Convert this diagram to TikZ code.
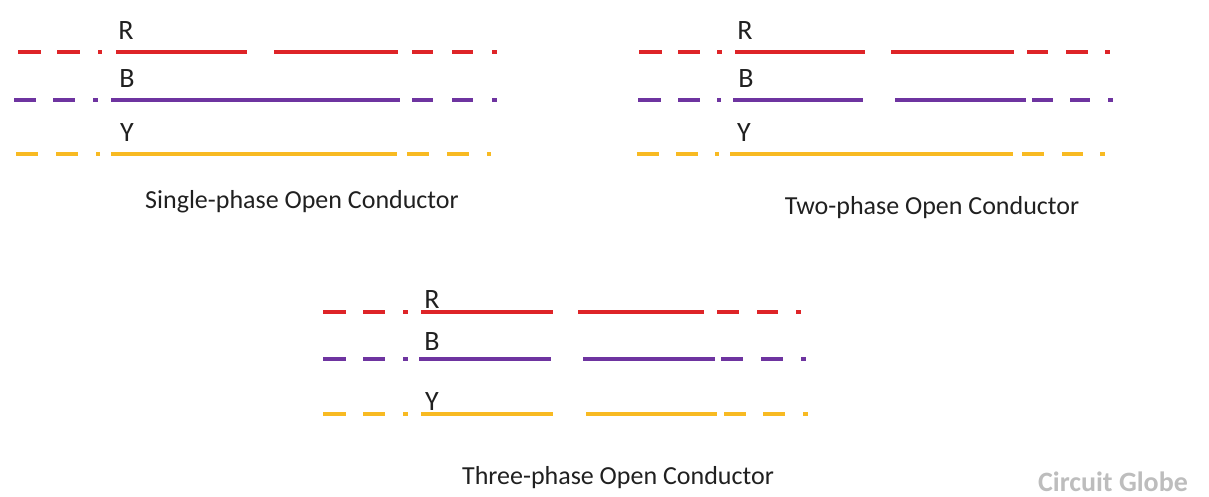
\documentclass[tikz,border=0pt]{standalone}
\usepackage{fontspec}
\setmainfont{Carlito}
\usetikzlibrary{positioning}
\definecolor{phRed}{HTML}{DE2428}
\definecolor{phBlue}{HTML}{6E34A0}
\definecolor{phYellow}{HTML}{F8BA22}
\definecolor{cgGrey}{HTML}{BDBDBD}
\definecolor{txtInk}{HTML}{202020}
\tikzset{
  wire/.style={line width=4.2pt},
  phlabel/.style={font=\fontsize{28}{28}\selectfont, text=txtInk, inner sep=0pt, anchor=base},
  caption/.style={font=\fontsize{26}{26}\selectfont, text=txtInk, inner sep=0pt, anchor=base},
}

\begin{document}
\begin{tikzpicture}[x=1pt,y=-1pt]
  \useasboundingbox (0,0) rectangle (1209,497);
  % single-phase open conductor
  \foreach \a/\b in {18/41,57/80,98/102,116/247,274/398,412/433,452/473,492/497}
    {\draw[wire,phRed] (\a,52) -- (\b,52);}
  \foreach \a/\b in {14/36,53/75,93/98,111/400,412/433,452/473,492/497}
    {\draw[wire,phBlue] (\a,100) -- (\b,100);}
  \foreach \a/\b in {16/38,56/78,96/100,111/397,407/429,447/469,487/491}
    {\draw[wire,phYellow] (\a,154) -- (\b,154);}
  \node[phlabel] (r1) at (126,40) {R};
  \node[phlabel] (b1) at (127,88) {B};
  \node[phlabel] (y1) at (127,142) {Y};
  \node[caption] (cap1) at (302,208) {Single-phase Open Conductor};
  % two-phase open conductor
  \foreach \a/\b in {639/662,678/700,717/722,735/865,891/1014,1027/1048,1066/1088,1105/1110}
    {\draw[wire,phRed] (\a,52) -- (\b,52);}
  \foreach \a/\b in {638/661,678/700,717/721,733/863,895/1026,1032/1053,1070/1090,1108/1113}
    {\draw[wire,phBlue] (\a,100) -- (\b,100);}
  \foreach \a/\b in {637/659,676/698,715/719,730/1013,1022/1044,1062/1083,1100/1105}
    {\draw[wire,phYellow] (\a,154) -- (\b,154);}
  \node[phlabel] (r2) at (745,40) {R};
  \node[phlabel] (b2) at (746,88) {B};
  \node[phlabel] (y2) at (744,142) {Y};
  \node[caption] (cap2) at (932,214) {Two-phase Open Conductor};
  % three-phase open conductor
  \foreach \a/\b in {323/346,363/385,403/408,421/553,578/704,717/739,757/778,796/801}
    {\draw[wire,phRed] (\a,312) -- (\b,312);}
  \foreach \a/\b in {323/346,363/385,403/408,419/551,583/715,721/743,761/783,801/806}
    {\draw[wire,phBlue] (\a,359) -- (\b,359);}
  \foreach \a/\b in {323/346,363/385,403/408,421/553,586/717,724/746,763/785,803/808}
    {\draw[wire,phYellow] (\a,414) -- (\b,414);}
  \node[phlabel] (r3) at (432,308) {R};
  \node[phlabel] (b3) at (432,350) {B};
  \node[phlabel] (y3) at (432,410) {Y};
  \node[caption] (cap3) at (618,484) {Three-phase Open Conductor};
  % watermark
  \node[font=\bfseries\fontsize{28}{28}\selectfont, text=cgGrey, inner sep=0pt, anchor=base] (mark) at (1113,491) {Circuit Globe};
\end{tikzpicture}
\end{document}
